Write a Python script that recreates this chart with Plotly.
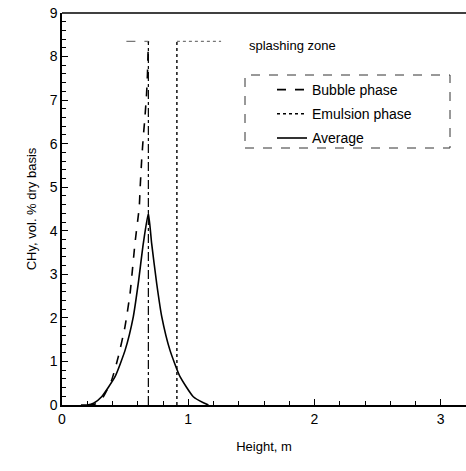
import plotly.graph_objects as go

# Data
bubble_x = [0.20, 0.26, 0.327, 0.393, 0.446, 0.499, 0.539, 0.578, 0.612, 0.618, 0.631, 0.644, 0.657, 0.670, 0.677, 0.684]
bubble_y = [0.0, 0.02, 0.19, 0.57, 1.11, 1.80, 2.56, 3.71, 4.55, 4.93, 5.62, 6.16, 6.61, 7.15, 7.60, 8.35]

emulsion_x = [0.91, 0.91]
emulsion_y = [0.0, 8.35]

average_x = [0.15, 0.20, 0.25, 0.314, 0.42, 0.50, 0.565, 0.604, 0.644, 0.684, 0.71, 0.75, 0.79, 0.855, 0.935, 1.04, 1.12, 1.16]
average_y = [0.0, 0.0, 0.04, 0.19, 0.65, 1.26, 2.03, 2.79, 3.71, 4.40, 3.71, 2.79, 2.03, 1.26, 0.65, 0.19, 0.05, 0.0]

splash_left = 0.51
splash_lo = 0.684
splash_hi = 0.91
splash_right = 1.26
splash_top = 8.35

x_tick_step = 1
y_tick_step = 1
minor_step = 0.2

font_family = "Liberation Sans, Arial, sans-serif"

fig = go.Figure()
fig.add_trace(go.Scatter(x=bubble_x, y=bubble_y, mode="lines", name="Bubble phase", legendgroup="b",
                         line=dict(color="black", width=1.6, dash="dash", shape="spline", smoothing=0.5)))
fig.add_trace(go.Scatter(x=emulsion_x, y=emulsion_y, mode="lines", name="Emulsion phase", legendgroup="e",
                         line=dict(color="black", width=1.4, dash="dot")))
fig.add_trace(go.Scatter(x=average_x, y=average_y, mode="lines", name="Average", legendgroup="a",
                         line=dict(color="black", width=1.6, shape="spline", smoothing=0.5)))

# splashing zone markers
fig.add_shape(type="line", x0=splash_lo, x1=splash_lo, y0=0, y1=splash_top, opacity=1,
              line=dict(color="black", width=1.2, dash="dashdot"))
fig.add_shape(type="line", x0=splash_left, x1=splash_lo, y0=splash_top, y1=splash_top, opacity=1,
              line=dict(color="#777", width=1.2, dash="dash"))
fig.add_shape(type="line", x0=splash_hi, x1=splash_right, y0=splash_top, y1=splash_top, opacity=1,
              line=dict(color="#777", width=1.2, dash="dot"))

# legend box (dashed)
fig.add_shape(type="rect", xref="paper", yref="paper", opacity=1,
              x0=(245 - 62) / 404, x1=(450 - 62) / 404,
              y0=(405 - 148) / 392, y1=(405 - 75) / 392,
              fillcolor="rgba(0,0,0,0)",
              line=dict(color="#333", width=1, dash="dash"))

fig.add_annotation(x=(247 - 62) / 404, y=(405 - 46) / 392, xref="paper", yref="paper",
                   text="splashing zone", showarrow=False, xanchor="left", yanchor="middle",
                   font=dict(family=font_family, size=13, color="black"))

fig.update_layout(
    template="simple_white",
    width=466, height=471,
    margin=dict(l=62, r=0, t=13, b=66),
    paper_bgcolor="white", plot_bgcolor="white",
    font=dict(family=font_family, size=13, color="black"),
    showlegend=True,
    legend=dict(x=(272 - 62) / 404, y=(405 - 74) / 392, xanchor="left", yanchor="top",
                bgcolor="rgba(0,0,0,0)", borderwidth=0,
                font=dict(family=font_family, size=14), tracegroupgap=3,
                itemwidth=30),
)
fig.update_xaxes(range=[0, 3.2], dtick=x_tick_step, tick0=0,
                 showline=True, linecolor="black", linewidth=1.5,
                 ticks="inside", ticklen=6, tickcolor="black",
                 minor=dict(ticks="inside", dtick=minor_step, ticklen=4, tickcolor="black"),
                 title=dict(text="Height, m", font=dict(size=13), standoff=16),
                 tickfont=dict(size=14))
fig.update_yaxes(range=[0, 9], dtick=y_tick_step, tick0=0,
                 showline=True, linecolor="black", linewidth=1.5,
                 ticks="inside", ticklen=6, tickcolor="black",
                 minor=dict(ticks="inside", dtick=minor_step, ticklen=4, tickcolor="black"),
                 title=dict(text="CHy, vol. % dry basis", font=dict(size=13), standoff=10),
                 tickfont=dict(size=14))
# top frame line
fig.add_shape(type="line", xref="paper", yref="paper", x0=0, x1=1, y0=1, y1=1, opacity=1,
              line=dict(color="black", width=1.5))

fig.write_html("out.html")
